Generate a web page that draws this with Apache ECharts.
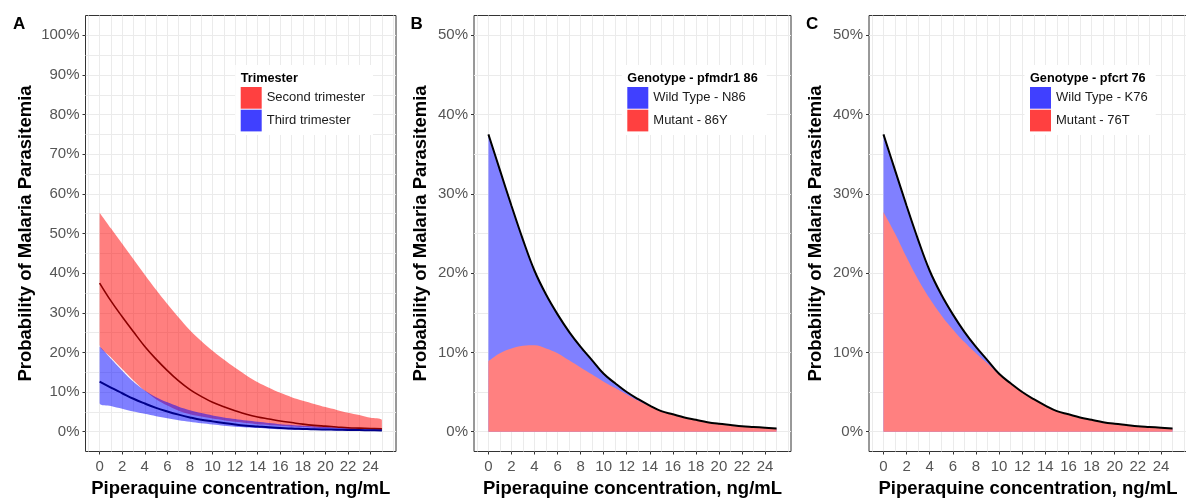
<!DOCTYPE html>
<html>
<head>
<meta charset="utf-8">
<title>Piperaquine concentration and malaria parasitemia</title>
<script src="https://cdn.jsdelivr.net/npm/echarts@6/dist/echarts.min.js"></script>
<style>
  html, body { margin: 0; padding: 0; background: #fff; }
  #chart { width: 1186px; height: 498px; }
</style>
</head>
<body>
<div id="chart"></div>
<script>
// piperaquine concentration, ng/mL
var conc = [0, 1, 2, 3, 4, 5, 6, 7, 8, 9, 10, 11, 12, 13, 14, 15, 16, 17, 18, 19, 20, 21, 22, 23, 24, 25];

// A - trimester (probability, %)
var secondHigh = [55.2, 51.3, 47.4, 43.5, 39.6, 35.8, 32.2, 28.8, 25.6, 22.9, 20.4, 18.2, 16.1, 14.2, 12.5, 11.1, 9.8, 8.7, 7.8, 7.0, 6.2, 5.5, 4.8, 4.2, 3.5, 3.0];
var secondMid = [37.5, 33.0, 29.0, 25.2, 21.5, 18.3, 15.4, 12.8, 10.6, 8.9, 7.4, 6.3, 5.3, 4.4, 3.7, 3.2, 2.7, 2.3, 1.9, 1.6, 1.4, 1.2, 1.0, 0.9, 0.8, 0.7];
var secondLow = [21.9, 18.8, 15.8, 12.9, 10.3, 8.2, 6.6, 5.3, 4.4, 3.8, 3.3, 2.9, 2.5, 2.2, 1.9, 1.7, 1.5, 1.3, 1.15, 1.0, 0.9, 0.8, 0.7, 0.65, 0.6, 0.55];
var thirdHigh = [21.4, 18.4, 15.4, 12.6, 10.4, 8.7, 7.4, 6.3, 5.4, 4.7, 4.1, 3.6, 3.2, 2.8, 2.5, 2.2, 1.9, 1.7, 1.5, 1.35, 1.2, 1.1, 1.0, 0.9, 0.8, 0.75];
var thirdMid = [12.6, 11.1, 9.7, 8.3, 7.1, 6.0, 5.1, 4.3, 3.6, 3.0, 2.6, 2.2, 1.8, 1.5, 1.3, 1.1, 0.95, 0.8, 0.7, 0.6, 0.55, 0.5, 0.45, 0.4, 0.35, 0.3];
var thirdLow = [7.2, 6.5, 5.8, 5.1, 4.5, 3.9, 3.4, 2.9, 2.5, 2.1, 1.8, 1.5, 1.25, 1.05, 0.9, 0.75, 0.6, 0.5, 0.45, 0.4, 0.35, 0.3, 0.25, 0.2, 0.2, 0.15];

// B - pfmdr1 86
var pfmdrTotal = [37.5, 33.0, 28.5, 24.2, 20.3, 17.3, 14.8, 12.6, 10.7, 9.0, 7.3, 6.1, 5.0, 4.1, 3.3, 2.6, 2.2, 1.8, 1.5, 1.2, 1.0, 0.85, 0.7, 0.6, 0.5, 0.4];
var pfmdrMutant = [8.9, 9.9, 10.5, 10.85, 10.9, 10.5, 9.9, 9.0, 8.1, 7.2, 6.3, 5.5, 4.7, 3.9, 3.2, 2.55, 2.15, 1.75, 1.45, 1.18, 0.98, 0.83, 0.68, 0.58, 0.48, 0.38];

// C - pfcrt 76
var pfcrtTotal = [37.5, 33.0, 28.5, 24.2, 20.3, 17.3, 14.8, 12.6, 10.7, 9.0, 7.3, 6.1, 5.0, 4.1, 3.3, 2.6, 2.2, 1.8, 1.5, 1.2, 1.0, 0.85, 0.7, 0.6, 0.5, 0.4];
var pfcrtMutant = [27.7, 25.0, 22.0, 19.2, 16.8, 14.7, 12.9, 11.3, 9.9, 8.6, 7.2, 6.0, 4.95, 4.05, 3.25, 2.57, 2.17, 1.77, 1.47, 1.18, 0.98, 0.83, 0.68, 0.58, 0.48, 0.38];

// tick labels
var xTicks = [0, 2, 4, 6, 8, 10, 12, 14, 16, 18, 20, 22, 24];
var yTicksA = [0, 10, 20, 30, 40, 50, 60, 70, 80, 90, 100];
var yTicksBC = [0, 10, 20, 30, 40, 50];

var FONT = "'Liberation Sans', Arial, sans-serif";
var xTitle = 'Piperaquine concentration, ng/mL';
var yTitle = 'Probability of Malaria Parasitemia';

function pairs(ys) {
    return conc.map(function (x, i) { return [x, ys[i]]; });
}

var grids = [
    {left: 85.5, top: 15.5, width: 310.5, height: 436},
    {left: 474, top: 15.5, width: 317, height: 436},
    {left: 869, top: 15.5, width: 318, height: 436}
];
var yRanges = [[-5, 105], [-2.5, 52.5], [-2.5, 52.5]];
var yTickSets = [yTicksA, yTicksBC, yTicksBC];
var yNameGaps = [50, 43.5, 43.5];
var gridLine = {
    show: true, showMinLine: false, showMaxLine: false,
    lineStyle: {color: '#ebebeb', width: 1}
};

var xAxes = [], yAxes = [];
grids.forEach(function (g, i) {
    g.show = true;
    g.borderColor = '#333';
    g.borderWidth = 1;
    g.backgroundColor = '#fff';
    g.containLabel = false;
    g.outerBoundsMode = 'none';
    // grid lines only
    xAxes.push({
        gridIndex: i, type: 'value', position: 'top', min: -1.25, max: 26.25,
        minInterval: 1, maxInterval: 1,
        axisLine: {show: false, onZero: false}, axisTick: {show: false}, axisLabel: {show: false},
        splitLine: gridLine
    });
    // ticks, labels and title
    xAxes.push({
        gridIndex: i, type: 'value', position: 'bottom', min: -1.25, max: 26.25,
        axisLine: {show: false, onZero: false},
        axisTick: {show: true, length: 3, customValues: xTicks, lineStyle: {color: '#333'}},
        axisLabel: {customValues: xTicks, color: '#555', fontSize: 15, margin: 8, fontFamily: FONT},
        splitLine: {show: false},
        name: xTitle, nameLocation: 'middle', nameGap: 27,
        nameTextStyle: {fontSize: 18.5, fontWeight: 'bold', color: '#000', fontFamily: FONT}
    });
    yAxes.push({
        gridIndex: i, type: 'value', position: 'right', min: yRanges[i][0], max: yRanges[i][1],
        minInterval: 5, maxInterval: 5,
        axisLine: {show: false, onZero: false}, axisTick: {show: false}, axisLabel: {show: false},
        splitLine: gridLine
    });
    yAxes.push({
        gridIndex: i, type: 'value', position: 'left', min: yRanges[i][0], max: yRanges[i][1],
        axisLine: {show: false, onZero: false},
        axisTick: {show: true, length: 3, customValues: yTickSets[i], lineStyle: {color: '#333'}},
        axisLabel: {
            customValues: yTickSets[i], color: '#555', fontSize: 15, margin: 6, fontFamily: FONT,
            formatter: function (v) { return v + '%'; }
        },
        splitLine: {show: false},
        name: yTitle, nameLocation: 'middle', nameGap: yNameGaps[i],
        nameTextStyle: {fontSize: 18.5, fontWeight: 'bold', color: '#000', fontFamily: FONT}
    });
});

// confidence band between two curves (panel A)
function band(name, panel, low, high, fill, z) {
    return {
        name: name, type: 'custom', xAxisIndex: panel * 2, yAxisIndex: panel * 2,
        z: z, silent: true, itemStyle: {color: fill},
        data: pairs(high),
        renderItem: function (params, api) {
            if (params.dataIndex !== 0) return null;
            var pts = [], i;
            for (i = 0; i < conc.length; i++) pts.push(api.coord([conc[i], high[i]]));
            for (i = conc.length - 1; i >= 0; i--) pts.push(api.coord([conc[i], low[i]]));
            var minX = Infinity, minY = Infinity, maxX = -Infinity, maxY = -Infinity;
            pts.forEach(function (p) {
                minX = Math.min(minX, p[0]); maxX = Math.max(maxX, p[0]);
                minY = Math.min(minY, p[1]); maxY = Math.max(maxY, p[1]);
            });
            return {
                type: 'polygon',
                shape: {points: pts, smooth: 0.3, smoothConstraint: [[minX, minY], [maxX, maxY]]},
                style: {fill: fill}
            };
        }
    };
}
// area filled down to 0 (panels B, C)
function under(name, panel, ys, fill, z) {
    return {
        name: name, type: 'line', xAxisIndex: panel * 2, yAxisIndex: panel * 2,
        data: pairs(ys), symbol: 'none', smooth: 0.4, silent: true, z: z,
        itemStyle: {color: fill},
        lineStyle: {width: 0, opacity: 0},
        areaStyle: {color: fill, opacity: 1}
    };
}
function curve(panel, ys, color, width) {
    return {
        type: 'line', xAxisIndex: panel * 2, yAxisIndex: panel * 2,
        data: pairs(ys), symbol: 'none', smooth: 0.4, silent: true, z: 5,
        lineStyle: {color: color, width: width}
    };
}

var RED_BAND = 'rgba(255,0,0,0.5)', BLUE_BAND = 'rgba(0,0,255,0.5)';
var RED_AREA = '#ff8080', BLUE_AREA = '#8080ff';
var RED_KEY = '#ff4040', BLUE_KEY = '#4040ff';

var series = [
    // A
    band('Second trimester', 0, secondLow, secondHigh, RED_BAND, 2),
    band('Third trimester', 0, thirdLow, thirdHigh, BLUE_BAND, 3),
    curve(0, secondMid, '#8b0000', 1.6),
    curve(0, thirdMid, '#00008b', 2),
    // B
    under('Wild Type - N86', 1, pfmdrTotal, BLUE_AREA, 2),
    under('Mutant - 86Y', 1, pfmdrMutant, RED_AREA, 3),
    curve(1, pfmdrTotal, '#000', 2),
    // C
    under('Wild Type - K76', 2, pfcrtTotal, BLUE_AREA, 2),
    under('Mutant - 76T', 2, pfcrtMutant, RED_AREA, 3),
    curve(2, pfcrtTotal, '#000', 2)
];

function legend(left, padRight, items) {
    return {
        orient: 'vertical', left: left, top: 65,
        padding: [22, padRight, 3.5, 5.5],
        backgroundColor: '#fff',
        icon: 'rect', itemWidth: 21, itemHeight: 21.7, itemGap: 1,
        selectedMode: false,
        itemStyle: {borderWidth: 0},
        textStyle: {fontSize: 13, color: '#1a1a1a', fontFamily: FONT},
        data: items.map(function (it) {
            return {name: it[0], itemStyle: {color: it[1], borderWidth: 0}};
        })
    };
}

function label(text, left, top, size) {
    return {
        text: text, left: left, top: top, padding: 0,
        textStyle: {fontSize: size, fontWeight: 'bold', color: '#000', fontFamily: FONT}
    };
}

var option = {
    animation: false,
    backgroundColor: '#fff',
    title: [
        label('A', 13, 15.6, 17),
        label('B', 410.5, 15.6, 17),
        label('C', 806, 15.6, 17),
        label('Trimester', 240.7, 71.5, 12.7),
        label('Genotype - pfmdr1 86', 627.3, 71.5, 12.7),
        label('Genotype - pfcrt 76', 1030, 71.5, 12.7)
    ],
    legend: [
        legend(235.2, 8, [['Second trimester', RED_KEY], ['Third trimester', BLUE_KEY]]),
        legend(621.8, 21, [['Wild Type - N86', BLUE_KEY], ['Mutant - 86Y', RED_KEY]]),
        legend(1024.5, 8, [['Wild Type - K76', BLUE_KEY], ['Mutant - 76T', RED_KEY]])
    ],
    grid: grids,
    xAxis: xAxes,
    yAxis: yAxes,
    series: series
};

var myChart = echarts.init(document.getElementById('chart'));
myChart.setOption(option);
</script>
</body>
</html>
